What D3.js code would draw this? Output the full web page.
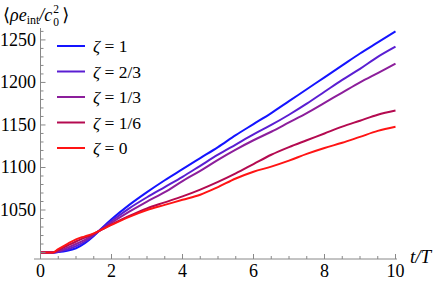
<!DOCTYPE html>
<html><head><meta charset="utf-8">
<script src="https://cdn.jsdelivr.net/npm/d3@7/dist/d3.min.js"></script>
<style>body{margin:0;background:#fff}svg{display:block}svg text{font-family:"Liberation Serif","Times New Roman",Tinos,"DejaVu Serif","Noto Serif",serif}</style>
</head><body><svg id="c" width="436" height="281"></svg>
<script>
const tValues = [0,0.25,0.35,0.5,0.75,1,1.25,1.5,1.75,2,2.5,3,3.5,4,4.5,5,5.5,6,6.5,7,7.5,8,8.5,9,9.5,10];
const zeta1   = [1000,1000,1000,1000.5,1002,1005,1011,1019.5,1029.5,1039,1056,1071,1085,1098,1111,1124,1138,1151,1164,1178,1192,1206,1220,1234,1247,1260];
const zeta23  = [1000,1000,1000,1001,1003.5,1007.5,1013,1020.5,1029,1037,1052,1065,1077,1089,1102,1115,1127,1139,1150,1162,1175,1189,1203,1216,1230,1242];
const zeta13  = [1000,1000,1000,1001.5,1005.5,1010,1015,1021,1028,1035,1048,1060,1071,1084,1096,1109,1121,1132,1142,1153,1164,1176,1188,1200,1211,1222];
const zeta16  = [1000,1000,1000,1003,1008,1013,1017.5,1022,1027.5,1033,1043,1052,1059,1066,1074,1083,1093,1104,1115,1124,1132,1140,1148,1155,1162,1167];
const zeta0   = [1000,1000,1000,1004,1010,1015.5,1019,1022.5,1027.5,1032.5,1042,1050,1056,1062,1068,1077,1087,1095,1101,1108,1116,1123,1129,1136,1143,1148];
const seriesLabels = ["1","2/3","1/3","1/6","0"];
const seriesColors = ["#1414ff","#5a1ed2","#8c1e9b","#b40a50","#ff1414"];
const xTicks = [0,2,4,6,8,10];
const yTicks = [1050,1100,1150,1200,1250];

const allSeries = [zeta1,zeta23,zeta13,zeta16,zeta0];
const svg = d3.select("#c");
const x = d3.scaleLinear().domain([0,10]).range([40.5,395.5]);
const y = d3.scaleLinear().domain([992.4,1264]).range([259,28]);
const axisColor = "#888";

const line = d3.line().x((d,i)=>x(tValues[i])).y(d=>y(d)).curve(d3.curveMonotoneX);
const gLines = svg.append("g");
allSeries.forEach((s,i)=>{
  gLines.append("path").attr("d",line(s)).attr("fill","none")
    .attr("stroke",seriesColors[i]).attr("stroke-width",2).attr("stroke-linejoin","round");
});

// axes
const ax = svg.append("g");
ax.append("line").attr("x1",34).attr("x2",397).attr("y1",259).attr("y2",259).attr("stroke",axisColor).attr("stroke-width",1);
ax.append("line").attr("x1",40.5).attr("x2",40.5).attr("y1",259).attr("y2",28).attr("stroke",axisColor).attr("stroke-width",1);
d3.range(0,10.01,0.5).forEach(v=>{
  const major = Math.abs(v-Math.round(v/2)*2)<1e-6;
  ax.append("line").attr("x1",x(v)).attr("x2",x(v)).attr("y1",259).attr("y2",259-(major?5:3)).attr("stroke",axisColor);
});
d3.range(1000,1261,10).forEach(v=>{
  const major = v%50===0;
  ax.append("line").attr("x1",40.5).attr("x2",40.5+(major?5:3)).attr("y1",y(v)).attr("y2",y(v)).attr("stroke",axisColor);
});
xTicks.forEach(v=>{
  ax.append("text").attr("x",x(v)).attr("y",277).attr("text-anchor","middle").attr("font-size",18).text(d3.format("d")(v));
});
yTicks.forEach(v=>{
  ax.append("text").attr("x",36).attr("y",y(v)+6).attr("text-anchor","end").attr("font-size",18).text(d3.format("d")(v));
});

// axis labels
svg.append("text").attr("x",410).attr("y",263).attr("font-size",19).attr("font-style","italic").text("t/T");
const yl = svg.append("text").attr("x",3).attr("y",21).attr("font-size",18);
yl.append("tspan").text("⟨");
yl.append("tspan").attr("font-style","italic").text("ρe");
yl.append("tspan").attr("font-size",12).attr("dy",3).text("int");
yl.append("tspan").attr("dy",-3).attr("font-style","italic").text("/c");
const endX = 3 + yl.node().getComputedTextLength() + 1;
svg.append("text").attr("x",endX).attr("y",26).attr("font-size",11.5).text("0");
svg.append("text").attr("x",endX).attr("y",12.5).attr("font-size",11.5).text("2");
svg.append("text").attr("x",endX+9).attr("y",21).attr("font-size",18).text("⟩");

// legend
const lg = svg.append("g");
seriesLabels.forEach((lab,i)=>{
  const yy = 46 + i*25.5;
  lg.append("line").attr("x1",57).attr("x2",85).attr("y1",yy).attr("y2",yy).attr("stroke",seriesColors[i]).attr("stroke-width",2);
  const t = lg.append("text").attr("x",93).attr("y",yy+6).attr("font-size",17.5);
  t.append("tspan").attr("font-style","italic").text("ζ");
  t.append("tspan").text(" = "+lab);
});
</script></body></html>
